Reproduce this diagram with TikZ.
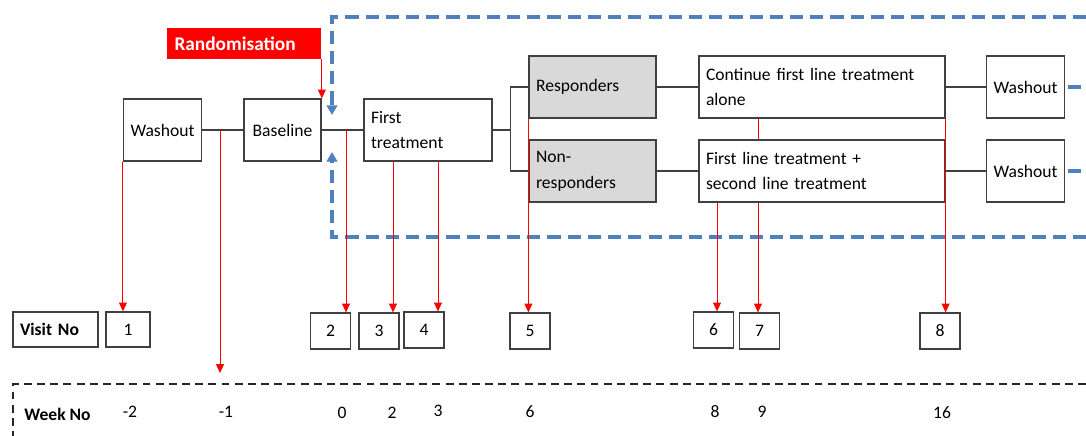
\documentclass[tikz,border=0pt]{standalone}
\usepackage{fontspec}
\setmainfont{Carlito}
\usetikzlibrary{arrows.meta}

\definecolor{boxline}{RGB}{64,64,64}
\definecolor{respgray}{RGB}{217,217,217}
\definecolor{phaseblue}{RGB}{79,129,189}

\tikzset{
  box/.style={draw=boxline, line width=0.7pt, fill=white, minimum height=1.24cm,
    inner xsep=0.14cm, font=\fontsize{10}{14.7}\selectfont},
  widebox/.style={box, align=left, text width=#1},
  randbox/.style={fill=red, text=white, inner xsep=0.16cm, minimum height=0.62cm,
    align=left, text width=2.78cm, font=\fontsize{11}{13}\selectfont\bfseries},
  vbox/.style={draw=boxline, line width=0.7pt, minimum width=0.8cm, minimum height=0.72cm,
    font=\fontsize{10}{12}\selectfont},
  week/.style={font=\fontsize{10}{12}\selectfont},
  link/.style={draw=boxline, line width=0.6pt},
  visit/.style={red, line width=0.5pt, -{Triangle[width=4.5pt,length=5pt]}},
  phase/.style={phaseblue, line width=2.2pt, dash pattern=on 7.5pt off 4pt},
  weekframe/.style={black!85, line width=1.3pt, dash pattern=on 4.5pt off 3pt}
}

\begin{document}
\begin{tikzpicture}[x=0.02cm, y=-0.02cm]
\useasboundingbox (0,0) rectangle (1086,436);

% treatment phase frame
\draw[phase, -{Triangle[width=6pt,length=5.5pt]}] (1086,17) -- (332,17) -- (332,115);
\draw[phase, -{Triangle[width=6pt,length=5.5pt]}] (1086,237) -- (332,237) -- (332,152);

% top row
\node[randbox] (rand) at (244,43.5) {Randomisation};
\node[box, minimum width=1.54cm] (wash1) at (162.5,130) {Washout};
\node[box, minimum width=1.54cm] (base) at (282.5,130) {Baseline};
\node[widebox=2.28cm] (first) at (428,130) {First\\treatment};
\node[widebox=2.26cm, fill=respgray] (resp) at (592.5,87) {Responders};
\node[widebox=2.26cm, fill=respgray] (nonresp) at (592.5,171) {Non-\\responders};
\node[widebox=4.64cm] (cont) at (822,87) {Continue first line treatment\\alone};
\node[widebox=4.64cm] (both) at (822,171) {First line treatment +\\second line treatment};
\node[box, minimum width=1.54cm] (wash2) at (1025.5,87) {Washout};
\node[box, minimum width=1.54cm] (wash3) at (1025.5,171) {Washout};

\draw[link] (wash1) -- (base);
\draw[link] (base) -- (first);
\draw[link] (first.east) -- ++(18,0) coordinate (fork);
\draw[link] (resp.west) -| (fork) |- (nonresp.west);
\draw[link] (resp) -- (cont);
\draw[link] (nonresp) -- (both);
\draw[link] (cont) -- (wash2);
\draw[link] (both) -- (wash3);
\draw[phase, shorten <=1.5pt] (wash2.east) -- (1086,87);
\draw[phase, shorten <=1.5pt] (wash3.east) -- (1086,171);

% visit row
\node[vbox, minimum width=1.7cm, minimum height=0.7cm, align=left, text width=1.42cm,
  font=\fontsize{10}{12}\selectfont\bfseries] (visitno) at (55.5,329.5) {Visit No};
\node[vbox, minimum width=0.88cm, minimum height=0.7cm] (v1) at (128,329.5) {1};
\node[vbox] (v2) at (330.5,331) {2};
\node[vbox] (v3) at (379,331) {3};
\node[vbox] (v4) at (424,330) {4};
\node[vbox] (v5) at (530,331) {5};
\node[vbox] (v6) at (713.5,330) {6};
\node[vbox] (v7) at (759.5,331) {7};
\node[vbox] (v8) at (940,331) {8};

% week row
\draw[weekframe] (1086,384) -- (13,384) -- (13,436);
\node[week, font=\fontsize{10}{12}\selectfont\bfseries] (weekno) at (57.5,414) {Week No};
\node[week] (wkm2) at (130,412) {-2};
\node[week] (wkm1) at (226,412) {-1};
\node[week] (wk0) at (342,413) {0};
\node[week] (wk2) at (392,413) {2};
\node[week] (wk3) at (438,411) {3};
\node[week] (wk6) at (530,412) {6};
\node[week] (wk8) at (715,412) {8};
\node[week] (wk9) at (762,412) {9};
\node[week] (wk16) at (942,413) {16};

% visit arrows
\coordinate (rnd) at (220,373);
\coordinate (t2) at (346,0);
\coordinate (t3) at (393,0);
\coordinate (t4) at (438,0);
\coordinate (t6) at (717,0);
\coordinate (t7) at (758,0);
\draw[visit] (rand.south east) -- (rand.south east |- base.north);
\draw[visit] (wash1.south west) -- (wash1.south west |- v1.north);
\draw[visit] (rnd |- wash1.east) -- (rnd);
\draw[visit] (t2 |- base.east) -- (t2 |- v2.north);
\draw[visit] (t3 |- first.south) -- (t3 |- v3.north);
\draw[visit] (t4 |- first.south) -- (t4 |- v4.north);
\draw[visit] (resp.south west) -- (resp.south west |- v5.north);
\draw[visit] (t6 |- both.south) -- (t6 |- v6.north);
\draw[red, line width=0.5pt] (t7 |- cont.south) -- (t7 |- both.north);
\draw[visit] (t7 |- both.south) -- (t7 |- v7.north);
\draw[visit] (cont.south east) -- (cont.south east |- v8.north);
\end{tikzpicture}
\end{document}
